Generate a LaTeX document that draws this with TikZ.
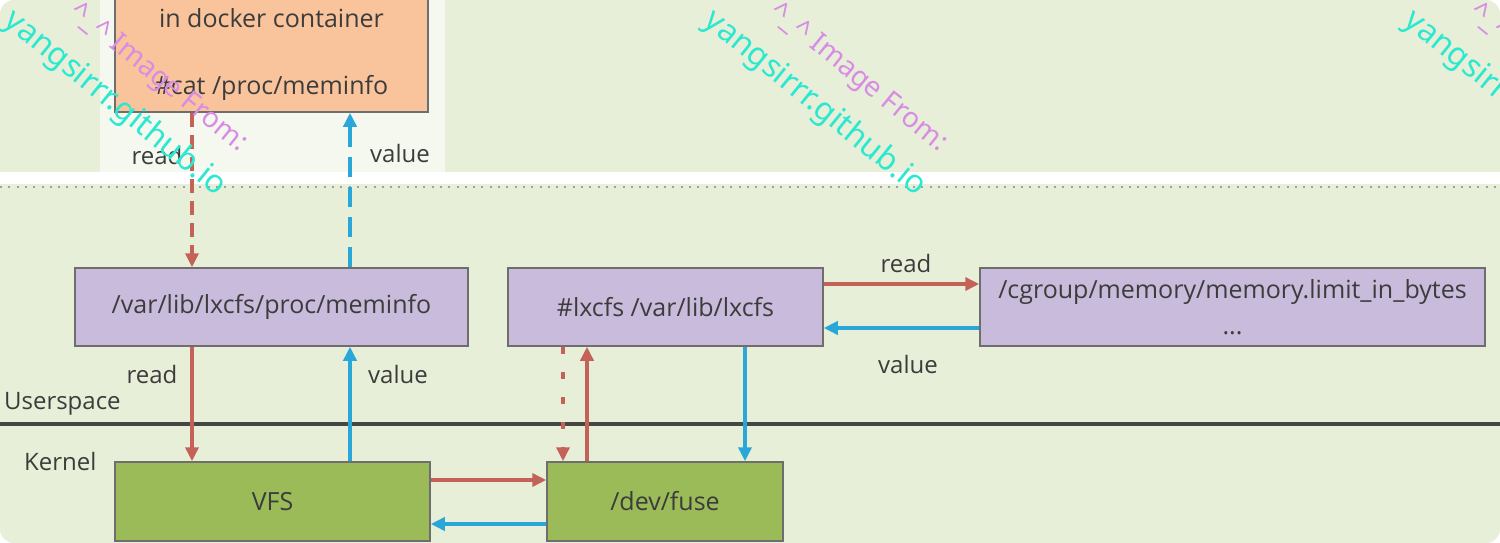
\documentclass[tikz,border=0pt]{standalone}
\usepackage{fontspec}
\setmainfont{Open Sans}
\newfontfamily\wmfont{Noto Sans}
\usetikzlibrary{arrows.meta}
\definecolor{bggreen}{RGB}{231,239,216}
\definecolor{dockerorange}{RGB}{249,196,156}
\definecolor{lxpurple}{RGB}{201,187,219}
\definecolor{kgreen}{RGB}{155,187,89}
\definecolor{redarrow}{RGB}{196,98,88}
\definecolor{bluearrow}{RGB}{40,167,216}
\definecolor{boxline}{RGB}{110,110,110}
\definecolor{txtgrey}{RGB}{60,60,60}
\definecolor{wmpink}{RGB}{216,140,230}
\definecolor{wmcyan}{RGB}{45,232,208}
\tikzset{every picture/.style={line width=0.75pt}}
\tikzset{
  box/.style={draw=boxline, line width=1.5pt, inner sep=0pt, text=txtgrey, font=\fontsize{25}{28}\selectfont},
  rd/.style={draw=redarrow, line width=3.5pt, -{Triangle[length=14pt,width=13pt]}},
  bl/.style={draw=bluearrow, line width=3.5pt, -{Triangle[length=14pt,width=13pt]}},
  lbl/.style={text=txtgrey, inner sep=0.75pt, font=\fontsize{24}{28}\selectfont},
  wm/.style={inner sep=0pt, rotate=-39},
}

\begin{document}
\begin{tikzpicture}[x=1pt,y=1pt,yscale=-1,xscale=1]
\clip (0,0) rectangle (1500,543);

%Shape: Background
\fill [white] (0,0) rectangle (1500,543);
\fill [bggreen, rounded corners=14] (0,0) rectangle (1500,543);
%Shape: white band and patch
\fill [white] (0,172) rectangle (1500,184);
\fill [white, opacity=0.6] (100,0) rectangle (445,176);
%Straight Lines: dotted separator
\draw [gray!75, line width=2pt, dash pattern=on 2pt off 6.3pt] (0,187) -- (1500,187);
%Straight Lines: userspace / kernel
\draw [color={rgb, 255:red, 70; green, 70; blue, 66}, line width=4pt] (0,424) -- (1500,424);

%Shape: Rectangle
\node [box, fill=dockerorange, minimum width=313, minimum height=172] (docker) at (271.5,26) {};
%Shape: Rectangle
\node [box, fill=lxpurple, minimum width=393, minimum height=78] (lxproc) at (271.5,307) {/var/lib/lxcfs/proc/meminfo};
%Shape: Rectangle
\node [box, fill=lxpurple, minimum width=315, minimum height=78] (lxcfs) at (665.5,307) {\#lxcfs /var/lib/lxcfs};
%Shape: Rectangle
\node [box, fill=lxpurple, minimum width=505, minimum height=78, align=center] (cgroup) at (1232.5,307) {/cgroup/memory/memory.limit\_in\_bytes\\[8pt]...};
%Shape: Rectangle
\node [box, fill=kgreen, minimum width=315, minimum height=79] (vfs) at (272.5,501.5) {VFS};
%Shape: Rectangle
\node [box, fill=kgreen, minimum width=236, minimum height=79] (fuse) at (665,501.5) {/dev/fuse};

% arrow positions
\coordinate (xread) at (192,0);
\coordinate (xvalue) at (350,0);
\coordinate (xpoll) at (563,0);
\coordinate (xreply) at (587,0);
\coordinate (xnotify) at (745,0);
\coordinate (yreadc) at (0,284);
\coordinate (yvaluec) at (0,328);
\coordinate (yreadk) at (0,480);
\coordinate (yvaluek) at (0,524);

%Straight Lines
\draw [rd, dash pattern=on 14pt off 8pt] (docker.south -| xread) -- (lxproc.north -| xread);
%Straight Lines
\draw [bl, dash pattern=on 20pt off 10pt] (lxproc.north -| xvalue) -- (docker.south -| xvalue);
%Straight Lines
\draw [rd] (lxproc.south -| xread) -- (vfs.north -| xread);
%Straight Lines
\draw [bl] (vfs.north -| xvalue) -- (lxproc.south -| xvalue);
%Straight Lines
\draw [rd] (vfs.east |- yreadk) -- (fuse.west |- yreadk);
%Straight Lines
\draw [bl] (fuse.west |- yvaluek) -- (vfs.east |- yvaluek);
%Straight Lines
\draw [rd, dash pattern=on 7pt off 18pt] (lxcfs.south -| xpoll) -- (fuse.north -| xpoll);
%Straight Lines
\draw [rd] (fuse.north -| xreply) -- (lxcfs.south -| xreply);
%Straight Lines
\draw [bl] (lxcfs.south -| xnotify) -- (fuse.north -| xnotify);
%Straight Lines
\draw [rd] (lxcfs.east |- yreadc) -- (cgroup.west |- yreadc);
%Straight Lines
\draw [bl] (cgroup.west |- yvaluec) -- (lxcfs.east |- yvaluec);

% Text Node
\node [lbl, font=\fontsize{25}{28}\selectfont] (dockertitle) at (271.5,18) {in docker container};
% Text Node
\node [lbl, font=\fontsize{25}{28}\selectfont] (dockercmd) at (271.5,88) {\#cat /proc/meminfo};
% Text Node
\node [lbl] (readtop) at (157,155) {read};
% Text Node
\node [lbl] (valuetop) at (400,153) {value};
% Text Node
\node [lbl] (readmid) at (152,374) {read};
% Text Node
\node [lbl] (valuemid) at (398,374) {value};
% Text Node
\node [lbl] (readright) at (906,263) {read};
% Text Node
\node [lbl] (valueright) at (908,364) {value};
% Text Node
\node [lbl, anchor=west] (userspace) at (3,404) {Userspace};
% Text Node
\node [lbl, anchor=west] (kernel) at (23,461) {Kernel};

% Watermark
\node [wm, text=wmpink, font=\wmfont\fontsize{28}{30}\selectfont] (wmpinka) at (158,78) {\textasciicircum\_\textasciicircum\ Image From:};
\node [wm, text=wmcyan, font=\wmfont\fontsize{32}{34}\selectfont] (wmcyana) at (115,104) {yangsirrr.github.io};
\node [wm, text=wmpink, font=\wmfont\fontsize{28}{30}\selectfont] (wmpinkb) at (858,78) {\textasciicircum\_\textasciicircum\ Image From:};
\node [wm, text=wmcyan, font=\wmfont\fontsize{32}{34}\selectfont] (wmcyanb) at (815,104) {yangsirrr.github.io};
\node [wm, text=wmpink, font=\wmfont\fontsize{28}{30}\selectfont] (wmpinkc) at (1558,78) {\textasciicircum\_\textasciicircum\ Image From:};
\node [wm, text=wmcyan, font=\wmfont\fontsize{32}{34}\selectfont] (wmcyanc) at (1515,104) {yangsirrr.github.io};

\end{tikzpicture}
\end{document}
